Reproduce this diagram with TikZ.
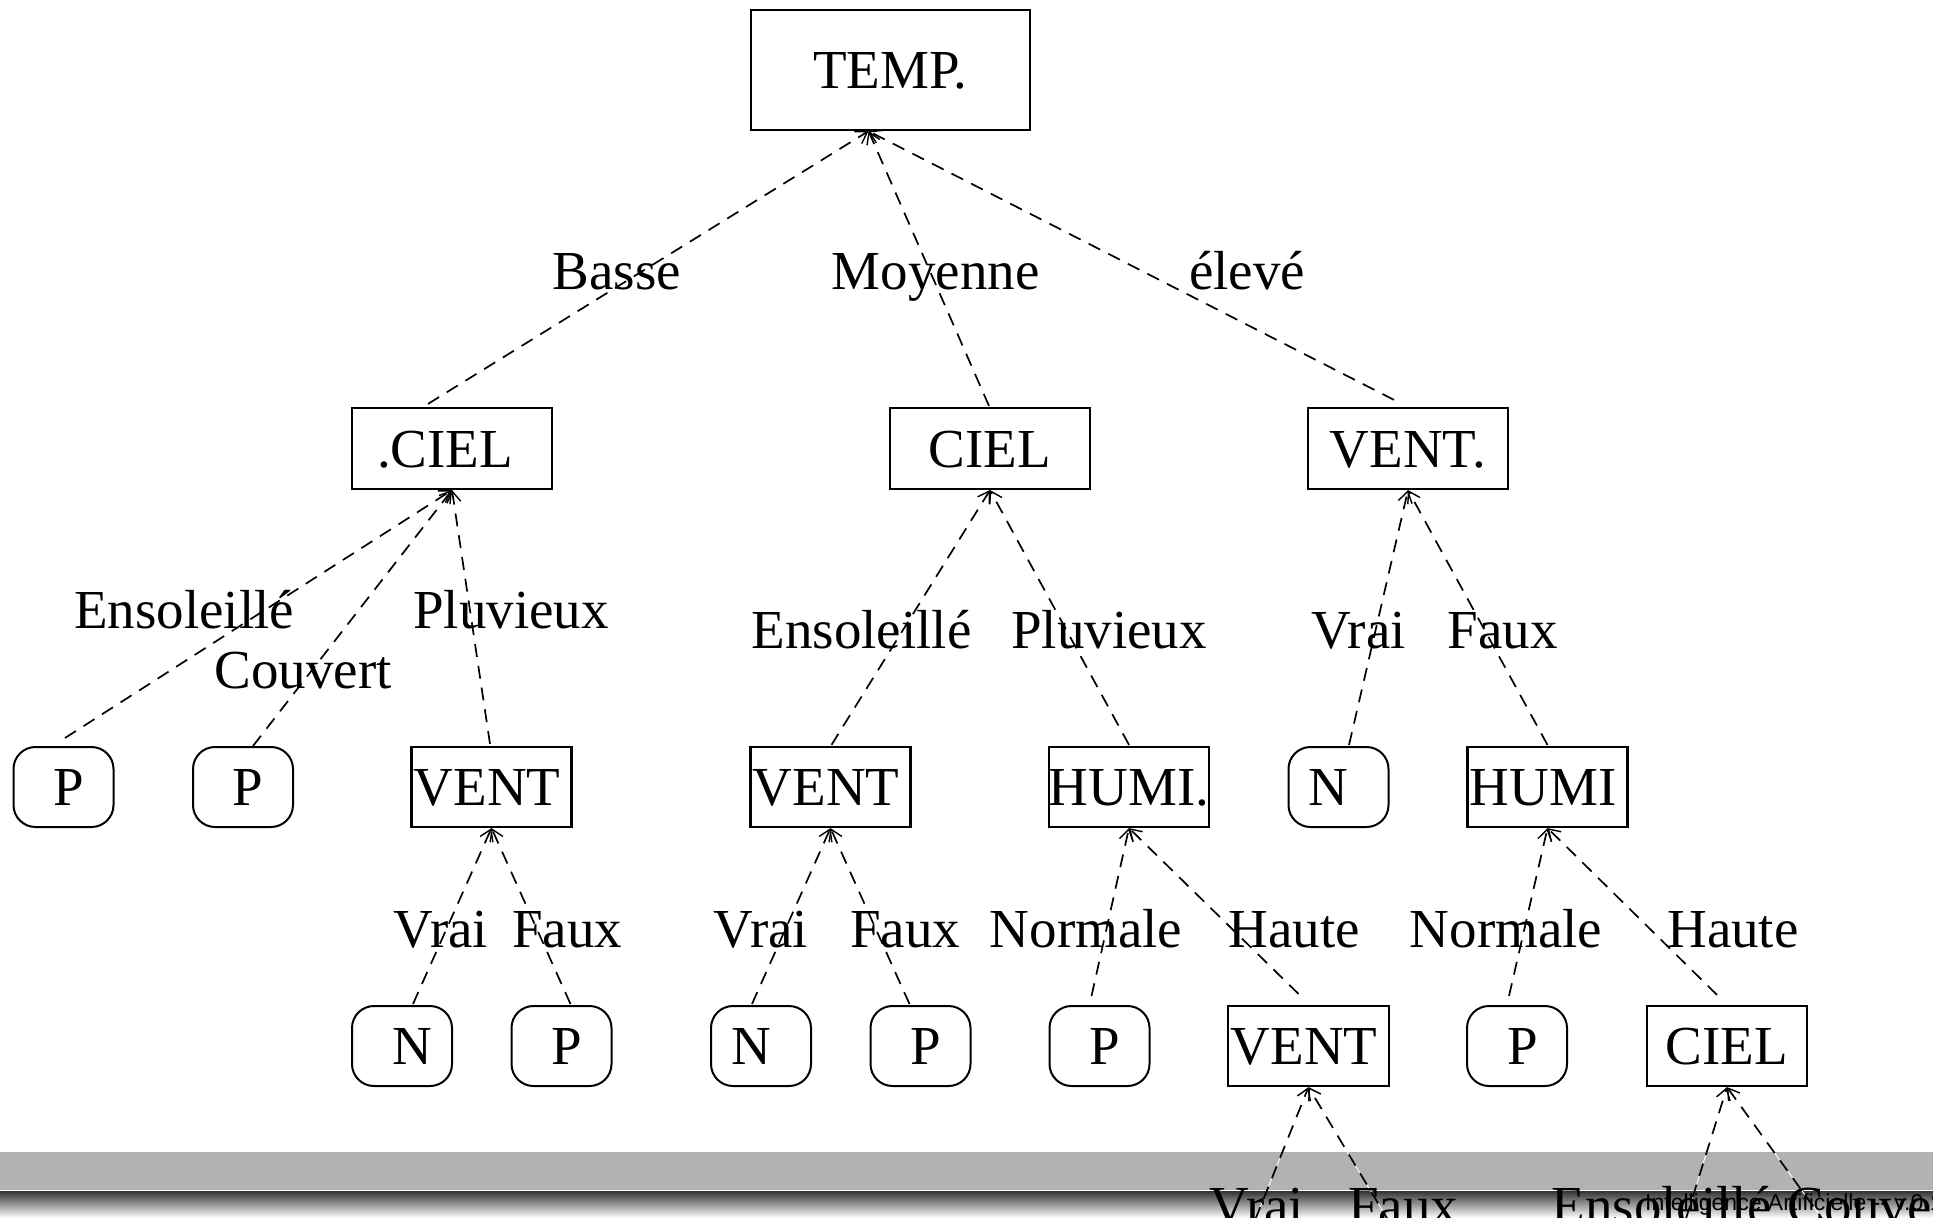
\documentclass[tikz,border=0pt]{standalone}
\usepackage{fontspec}
\setmainfont{Liberation Serif}
\newfontfamily\footfont{Liberation Sans}
\usetikzlibrary{arrows.meta}
\begin{document}
\begin{tikzpicture}[x=1pt,y=-1pt,
  every node/.style={font=\fontsize{55pt}{60pt}\selectfont, inner sep=0pt},
  dec/.style={draw, line width=2.2pt, text height=37pt, text depth=0pt},
  lvone/.style={dec, minimum width=200pt, minimum height=81pt},
  lvbox/.style={dec, minimum width=160pt, minimum height=80pt},
  leaf/.style={draw, line width=2pt, rounded corners=22pt, minimum width=100pt, minimum height=80pt, text height=37pt, text depth=0pt},
  lbl/.style={anchor=base},
  edge/.style={dash pattern=on 13pt off 9pt, line width=1.7pt, -{Straight Barb[length=11pt,width=14pt,line width=1.4pt]}},
  under/.style={white, line width=0.9pt},
]
\useasboundingbox (0,0) rectangle (1933,1218);
\clip (0,0) rectangle (1933,1218);
\fill[white] (0,0) rectangle (1933,1218);
% bottom band
\fill[black!30] (0,1152) rectangle (1933,1190);
\shade[top color=black!80, bottom color=white] (0,1191) rectangle (1933,1218);

% level 0
\node[dec, minimum width=279pt, minimum height=120pt] (temp) at (890.5,70) {TEMP.};
% level 1
\node[lvone] (ca) at (452,448.5) {\hspace*{-14pt}.CIEL};
\node[lvone] (cb) at (990,448.5) {CIEL};
\node[lvone] (va) at (1408,448.5) {VENT.};
% level 2
\node[leaf] (pa) at (63.5,787) {\hspace*{11pt}P};
\node[leaf] (pb) at (243,787) {\hspace*{10pt}P};
\node[lvbox] (vb) at (491.5,787) {VENT\hspace*{9pt}};
\node[lvbox] (vc) at (830.5,787) {VENT\hspace*{9pt}};
\node[lvbox] (ha) at (1129,787) {HUMI.};
\node[leaf] (na) at (1338.5,787) {N\hspace*{20pt}};
\node[lvbox] (hb) at (1547.5,787) {HUMI\hspace*{9pt}};
% level 3
\node[leaf] (nb) at (402,1046) {\hspace*{20pt}N};
\node[leaf] (pc) at (561.5,1046) {\hspace*{10pt}P};
\node[leaf] (nc) at (761,1046) {N\hspace*{20pt}};
\node[leaf] (pd) at (920.5,1046) {\hspace*{10pt}P};
\node[leaf] (pe) at (1099.5,1046) {\hspace*{10pt}P};
\node[lvbox, minimum width=161pt] (vd) at (1308.5,1046) {VENT\hspace*{9pt}};
\node[leaf] (pf) at (1517,1046) {\hspace*{12pt}P};
\node[lvbox] (cc) at (1727,1046) {CIEL};
% off-picture children
\coordinate (xa) at (1239,1260);
\coordinate (xb) at (1412,1260);
\coordinate (xc) at (1673,1260);
\coordinate (xd) at (1852,1260);

% connectors level 0-1
\draw[edge] ([xshift=-24pt,yshift=3pt]ca.north) -- ([xshift=-22pt]temp.south);
\draw[edge] ([xshift=-1pt,yshift=1pt]cb.north) -- ([xshift=-22pt]temp.south);
\draw[edge] ([xshift=-14pt,yshift=7pt]va.north) -- ([xshift=-22pt]temp.south);
% level 1-2
\draw[edge] ([xshift=1.5pt,yshift=8pt]pa.north) -- (ca.south);
\draw[edge] ([xshift=10pt]pb.north) -- (ca.south);
\draw[edge] ([xshift=-1.5pt,yshift=2pt]vb.north) -- (ca.south);
\draw[edge] ([xshift=1pt,yshift=1pt]vc.north) -- (cb.south);
\draw[edge] ([yshift=1pt]ha.north) -- (cb.south);
\draw[edge] ([xshift=10.5pt,yshift=1pt]na.north) -- (va.south);
\draw[edge] ([yshift=1pt]hb.north) -- (va.south);
% level 2-3
\draw[edge] ([xshift=11pt,yshift=1pt]nb.north) -- (vb.south);
\draw[edge] ([xshift=9pt,yshift=1pt]pc.north) -- (vb.south);
\draw[edge] ([xshift=-9pt,yshift=1pt]nc.north) -- (vc.south);
\draw[edge] ([xshift=-11pt,yshift=1pt]pd.north) -- (vc.south);
\draw[edge] ([xshift=-8pt,yshift=9pt]pe.north) -- (ha.south);
\draw[edge] ([xshift=-10pt,yshift=11pt]vd.north) -- (ha.south);
\draw[edge] ([xshift=-8pt,yshift=9pt]pf.north) -- (hb.south);
\draw[edge] ([xshift=-10pt,yshift=10pt]cc.north) -- (hb.south);
% level 3-4 (cut by the picture edge)
\draw[under] (xa) -- (vd.south);
\draw[under] (xb) -- (vd.south);
\draw[under] (xc) -- (cc.south);
\draw[under] (xd) -- (cc.south);
\draw[edge] (xa) -- (vd.south);
\draw[edge] (xb) -- (vd.south);
\draw[edge] (xc) -- (cc.south);
\draw[edge] (xd) -- (cc.south);

% labels
\node[lbl] (l1) at (617,289) {Basse};
\node[lbl] (l2) at (935.6,289) {Moyenne};
\node[lbl] (l3) at (1247,289) {élevé};
\node[lbl] (l4) at (184,628) {Ensoleillé};
\node[lbl] (l5) at (303,688) {Couvert};
\node[lbl] (l6) at (511,628) {Pluvieux};
\node[lbl] (l7) at (861.5,648) {Ensoleillé};
\node[lbl] (l8) at (1109,648) {Pluvieux};
\node[lbl] (l9) at (1358.5,648) {Vrai};
\node[lbl] (l10) at (1502.5,648) {Faux};
\node[lbl] (l11) at (441,947) {Vrai};
\node[lbl] (l12) at (567,947) {Faux};
\node[lbl] (l13) at (761,947) {Vrai};
\node[lbl] (l14) at (905,947) {Faux};
\node[lbl] (l15) at (1086,947) {Normale};
\node[lbl] (l16) at (1294.5,947) {Haute};
\node[lbl] (l17) at (1506,947) {Normale};
\node[lbl] (l18) at (1733,947) {Haute};
\node[lbl] (l19) at (1257,1224.5) {Vrai};
\node[lbl] (l20) at (1403,1224.5) {Faux};
\node[lbl] (l21) at (1661.5,1224.5) {Ensoleillé};
\node[lbl] (l22) at (1876.5,1224.5) {Couvert};
% footer
\node[anchor=base west, font=\footfont\fontsize{23pt}{25pt}\selectfont, text=black] (foot) at (1645,1210) {Intelligence Artificielle -- v.0.1};
\end{tikzpicture}
\end{document}
